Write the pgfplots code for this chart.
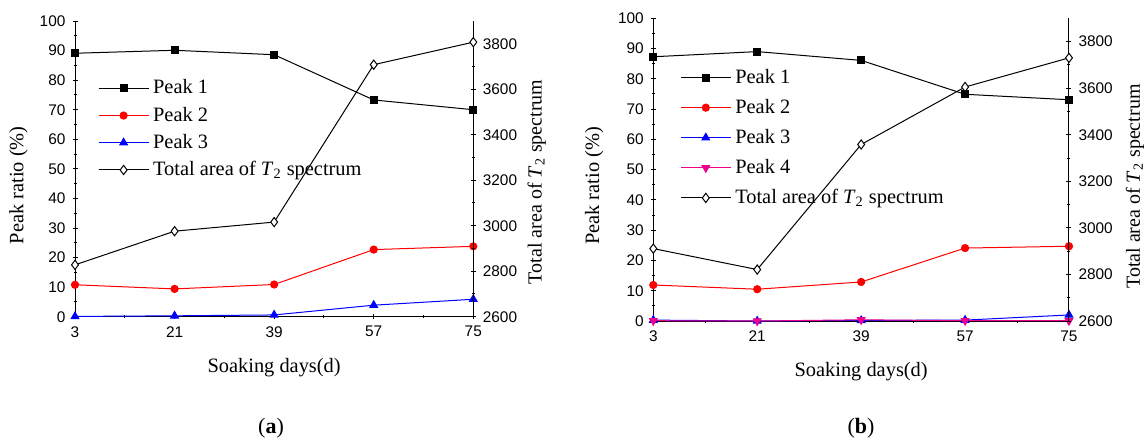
\documentclass[border=0pt]{standalone}
\usepackage{fontspec}
\setmainfont{Liberation Serif}
\newfontfamily\ticksf{Liberation Sans}
\usepackage{pgfplots}
\pgfplotsset{compat=1.18}

\pgfplotsset{
  common/.style={
    scale only axis, xmin=3, xmax=75,
    tick align=outside, major tick length=2.5pt, minor tick length=1.5pt,
    every tick/.style={black, line width=0.5pt},
    /pgf/number format/assume math mode=true,
    /pgf/number format/1000 sep={},
    tick label style={font=\ticksf\fontsize{7.7}{9}\selectfont},
    label style={font=\fontsize{10.2}{12}\selectfont},
    every axis plot/.append style={line width=0.5pt},
  },
  peakaxis/.style={
    common,
    axis x line=bottom, axis y line=left,
    axis line style={-, line width=0.5pt},
    xtick={3,21,39,57,75}, minor x tick num=1,
    ymin=0, ymax=100, ytick={0,10,...,100}, minor y tick num=1,
    xlabel={Soaking days(d)},
    ylabel={Peak ratio (\%)},
    xlabel style={at={(axis description cs:0.5,0)}, anchor=center, yshift=-25.5pt},
    legend style={draw=none, fill=none, font=\fontsize{10.2}{12}\selectfont,
      anchor=north west, inner sep=0pt, row sep=1pt},
    legend cell align=left,
    legend image code/.code={
      \draw[mark repeat=2,mark phase=2,#1] plot coordinates {(0pt,0pt) (12.5pt,0pt) (25pt,0pt)};},
  },
  areaaxis/.style={
    common,
    axis x line=none, axis y line=right,
    axis line style={-, line width=0.5pt},
    ymin=2600, ymax=3900, ytick={2600,2800,...,3800}, minor y tick num=1,
    ylabel={Total area of \textit{T}\textsubscript{2} spectrum},
  },
  p1/.style={black, mark=square*, mark size=1.75pt},
  p2/.style={red, mark=*, mark size=1.8pt},
  p3/.style={blue, mark=triangle*, mark size=2.2pt},
  p4/.style={magenta, mark=triangle*, mark size=2.2pt, mark options={rotate=180}},
  tot/.style={black, mark=diamond*, mark size=2.3pt, mark options={fill=white}},
}

\begin{document}
\begin{tikzpicture}
\useasboundingbox (0pt,0pt) rectangle (572.5pt,-220.5pt);

% ---- panel (a)
\begin{axis}[peakaxis, at={(37.5pt,-158.35pt)}, anchor=south west,
  width=199.15pt, height=147.85pt,
  ylabel style={at={(axis description cs:-0.142,0.445)}, anchor=center},
  legend style={at={(axis description cs:0.057,0.816)}}]
\addplot[p1] coordinates {(3,89.1) (21,90.1) (39,88.6) (57,73.3) (75,70.0)};
\addlegendentry{Peak 1}
\addplot[p2] coordinates {(3,10.8) (21,9.4) (39,10.9) (57,22.7) (75,23.8)};
\addlegendentry{Peak 2}
\addplot[p3] coordinates {(3,0.1) (21,0.3) (39,0.6) (57,3.9) (75,5.9)};
\addlegendentry{Peak 3}
\addlegendimage{tot}
\addlegendentry{Total area of \textit{T}\textsubscript{2} spectrum}
\end{axis}
\begin{axis}[areaaxis, at={(37.5pt,-158.35pt)}, anchor=south west,
  width=199.15pt, height=147.85pt,
  ylabel style={at={(axis description cs:1.159,0.456)}, anchor=center}]
\addplot[tot] coordinates {(3,2828) (21,2976) (39,3016) (57,3708) (75,3807)};
\end{axis}

% ---- panel (b)
\begin{axis}[peakaxis, at={(326.65pt,-160.5pt)}, anchor=south west,
  width=207.85pt, height=151.35pt,
  ylabel style={at={(axis description cs:-0.142,0.446)}, anchor=center},
  legend style={at={(axis description cs:0.064,0.847)}, row sep=2.45pt}]
\addplot[p1] coordinates {(3,87.3) (21,89.0) (39,86.1) (57,74.9) (75,73.1)};
\addlegendentry{Peak 1}
\addplot[p2] coordinates {(3,11.9) (21,10.5) (39,12.9) (57,24.1) (75,24.7)};
\addlegendentry{Peak 2}
\addplot[p3] coordinates {(3,0.3) (21,0.0) (39,0.2) (57,0.3) (75,2.0)};
\addlegendentry{Peak 3}
\addplot[p4] coordinates {(3,0.1) (21,0.0) (39,0.4) (57,0.1) (75,0.1)};
\addlegendentry{Peak 4}
\addlegendimage{tot}
\addlegendentry{Total area of \textit{T}\textsubscript{2} spectrum}
\end{axis}
\begin{axis}[areaaxis, at={(326.65pt,-160.5pt)}, anchor=south west,
  width=207.85pt, height=151.35pt,
  ylabel style={at={(axis description cs:1.159,0.444)}, anchor=center}]
\addplot[tot] coordinates {(3,2911) (21,2821) (39,3358) (57,3605) (75,3730)};
\end{axis}

\node[font=\fontsize{11}{13}\selectfont] at (135.5pt,-214pt) {(\textbf{a})};
\node[font=\fontsize{11}{13}\selectfont] at (430.5pt,-214pt) {(\textbf{b})};
\end{tikzpicture}
\end{document}
